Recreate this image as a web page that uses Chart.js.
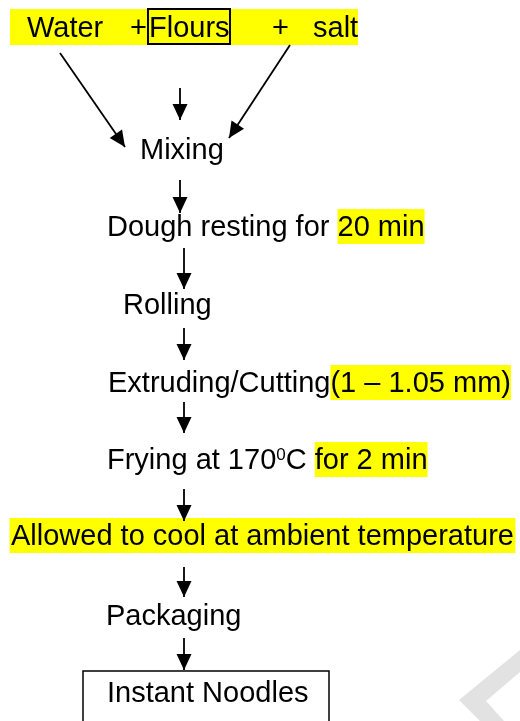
<!DOCTYPE html>
<html><head><meta charset="utf-8">
<script src="https://cdn.jsdelivr.net/npm/chart.js@4/dist/chart.umd.min.js"></script>
<style>html,body{margin:0;padding:0;background:#fff}#wrap{width:520px;height:721px;position:relative}</style>
</head><body><div id="wrap"><canvas id="c"></canvas></div>
<script>
// ---- content ----
const topIngredients = ["Water", "+", "Flours", "+", "salt"];
const stepSegments = [
  ["Mixing"],
  ["Dough resting for ", "20 min"],
  ["Rolling"],
  ["Extruding/Cutting", "(1 \u2013 1.05 mm)"],
  ["Frying at 170", "0", "C ", "for 2 min"],
  ["Allowed to cool at ambient temperature"],
  ["Packaging"],
  ["Instant Noodles"]
];
const stepHighlight = [[0],[0,1],[0],[0,1],[0,0,0,1],[1],[0],[0]];
const stepSuperscript = [[0],[0,0],[0],[0,0],[0,1,0,0],[0],[0],[0]];

// ---- layout (in scale units, 1 unit = 1 px) ----
const topX = [27, 130, 149, 272, 313];
const topBaseline = 37;
const topBand = [10, 358];
const floursBox = [148, 230, 9, 44];
const stepX = [140, 107, 123, 108, 107, 11, 106, 107];
const stepBaseline = [159, 236, 314, 392, 469, 545, 625, 702];
const arrowFrom = [[60,53],[290,45],[180,88],[180,180],[184,248],[184,328],[184,402],[184,489],[184,567],[184,638]];
const arrowTo   = [[125,147],[229,138],[180,120],[180,213],[184,289],[184,360],[184,433],[184,521],[184,597],[184,670]];
const resultBox = [83, 329, 671, 740];
const watermarkShape = [[520,650],[459,700],[480,721],[504,721],[486,701],[520,672]];

const FONT = "'Liberation Sans', Arial, Helvetica, sans-serif";
const SIZE = 29, SUP = 17, HL_UP = 27, HL_DOWN = 8;
const YELLOW = '#ffff00';

const datasets = [];
datasets.push({
  label: 'watermark',
  data: watermarkShape.map(p => ({x: p[0], y: p[1]})),
  showLine: true, fill: 'shape', backgroundColor: '#e2e2e2',
  borderColor: 'rgba(0,0,0,0)', borderWidth: 0, pointRadius: 0, tension: 0
});
arrowFrom.forEach((f, i) => {
  datasets.push({
    label: 'arrow' + i, isArrow: true,
    data: [{x: f[0], y: f[1]}, {x: arrowTo[i][0], y: arrowTo[i][1]}],
    showLine: true, fill: false, borderColor: '#000', borderWidth: 1.8,
    pointRadius: 0, tension: 0
  });
});

function segWidths(ctx, segs, sups) {
  return segs.map((s, j) => {
    ctx.font = (sups[j] ? SUP : SIZE) + 'px ' + FONT;
    return ctx.measureText(s).width;
  });
}

const flowPlugin = {
  id: 'flow',
  beforeDatasetsDraw(chart) {
    const ctx = chart.ctx, sx = chart.scales.x, sy = chart.scales.y;
    ctx.save();
    ctx.fillStyle = YELLOW;
    const by = sy.getPixelForValue(topBaseline);
    ctx.fillRect(sx.getPixelForValue(topBand[0]), by - 28, sx.getPixelForValue(topBand[1]) - sx.getPixelForValue(topBand[0]), 36);
    stepSegments.forEach((segs, i) => {
      const w = segWidths(ctx, segs, stepSuperscript[i]);
      let x = sx.getPixelForValue(stepX[i]);
      const y = sy.getPixelForValue(stepBaseline[i]);
      segs.forEach((s, j) => {
        if (stepHighlight[i][j]) {
          ctx.fillStyle = YELLOW;
          const pad = (segs.length === 1) ? 1.5 : 0;
          ctx.fillRect(x - pad, y - HL_UP, w[j] + 2 * pad, HL_UP + HL_DOWN);
        }
        x += w[j];
      });
    });
    ctx.restore();
  },
  afterDatasetsDraw(chart) {
    const ctx = chart.ctx, sx = chart.scales.x, sy = chart.scales.y;
    ctx.save();
    chart.data.datasets.forEach((ds, di) => {
      if (!ds.isArrow) return;
      const pts = chart.getDatasetMeta(di).data;
      const a = pts[0], b = pts[1];
      const ang = Math.atan2(b.y - a.y, b.x - a.x);
      const L = 16, W = 7.5;
      ctx.beginPath();
      ctx.moveTo(b.x, b.y);
      ctx.lineTo(b.x - L * Math.cos(ang) + W * Math.sin(ang), b.y - L * Math.sin(ang) - W * Math.cos(ang));
      ctx.lineTo(b.x - L * Math.cos(ang) - W * Math.sin(ang), b.y - L * Math.sin(ang) + W * Math.cos(ang));
      ctx.closePath();
      ctx.fillStyle = '#000';
      ctx.fill();
    });
    ctx.fillStyle = '#000';
    ctx.textBaseline = 'alphabetic';
    ctx.textAlign = 'left';
    ctx.font = SIZE + 'px ' + FONT;
    const ty = sy.getPixelForValue(topBaseline);
    topIngredients.forEach((t, i) => ctx.fillText(t, sx.getPixelForValue(topX[i]), ty));
    ctx.strokeStyle = '#000';
    ctx.lineWidth = 2;
    const fx0 = sx.getPixelForValue(floursBox[0]), fx1 = sx.getPixelForValue(floursBox[1]);
    const fy0 = sy.getPixelForValue(floursBox[2]), fy1 = sy.getPixelForValue(floursBox[3]);
    ctx.strokeRect(fx0, fy0, fx1 - fx0, fy1 - fy0);
    stepSegments.forEach((segs, i) => {
      const w = segWidths(ctx, segs, stepSuperscript[i]);
      let x = sx.getPixelForValue(stepX[i]);
      const y = sy.getPixelForValue(stepBaseline[i]);
      segs.forEach((s, j) => {
        const sup = stepSuperscript[i][j];
        ctx.font = (sup ? SUP : SIZE) + 'px ' + FONT;
        ctx.fillText(s, x, sup ? y - 9 : y);
        x += w[j];
      });
    });
    const rx0 = sx.getPixelForValue(resultBox[0]), rx1 = sx.getPixelForValue(resultBox[1]);
    const ry0 = sy.getPixelForValue(resultBox[2]), ry1 = sy.getPixelForValue(resultBox[3]);
    ctx.lineWidth = 1.5;
    ctx.strokeRect(rx0, ry0, rx1 - rx0, ry1 - ry0);
    ctx.restore();
  }
};

new Chart(document.getElementById('c'), {
  type: 'scatter',
  data: { datasets },
  options: {
    responsive: true, maintainAspectRatio: false, animation: false,
    layout: { padding: 0 },
    plugins: { legend: { display: false }, tooltip: { enabled: false }, title: { display: false } },
    events: [],
    scales: {
      x: { type: 'linear', min: 0, max: 520, display: false },
      y: { type: 'linear', min: 0, max: 721, reverse: true, display: false }
    }
  },
  plugins: [flowPlugin]
});
</script></body></html>
